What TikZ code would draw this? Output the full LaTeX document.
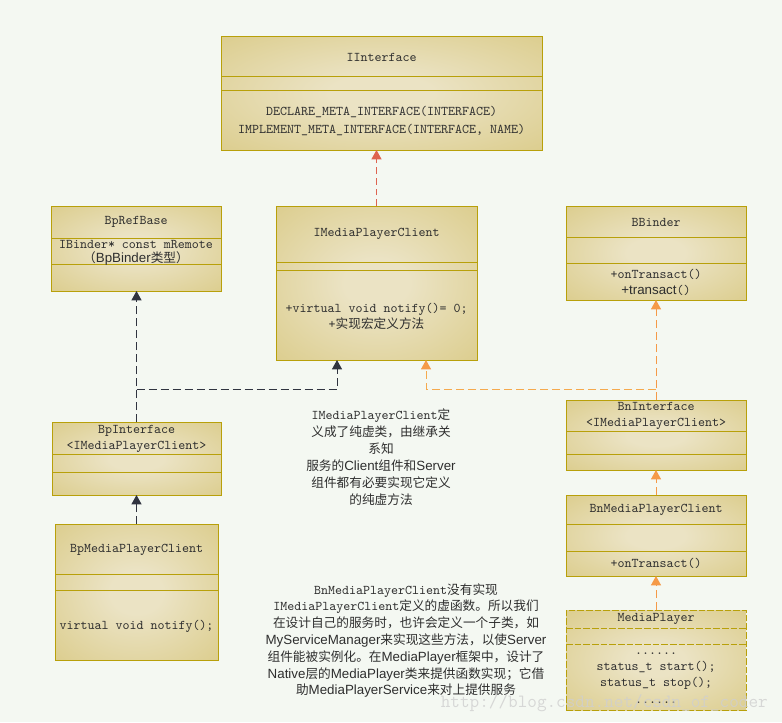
\documentclass[tikz,border=0pt]{standalone}
\usepackage{fontspec}
\setsansfont{Liberation Sans}
\newfontfamily\cjkfont{Noto Sans CJK SC}[Scale=0.95]
\usetikzlibrary{arrows.meta}
\definecolor{bg}{HTML}{F4F8F2}
\definecolor{boxin}{HTML}{EBE3C4}
\definecolor{boxout}{HTML}{D4C272}
\definecolor{boxline}{HTML}{B8A00A}
\definecolor{txt}{HTML}{2E2E2E}
\definecolor{redl}{HTML}{DE6450}
\definecolor{orgl}{HTML}{F59A48}
\definecolor{orgh}{HTML}{F5AA4E}
\definecolor{blkl}{HTML}{303440}
\definecolor{wmark}{HTML}{CFCFCF}
\pgfdeclareradialshading{boxshade}{\pgfpoint{0bp}{0bp}}{color(0bp)=(boxin); color(8bp)=(boxin); color(50bp)=(boxout); color(72bp)=(boxout)}
\newcommand\zh[1]{{\cjkfont #1}}
\newcommand\sfx[1]{{\sffamily #1}}
\newcommand\umlbox[6][]{\node[umlbox, #1, anchor=north west, minimum width={(#5-#3)*0.75pt}, minimum height={(#6-#4)*0.75pt}] (#2) at (#3,#4) {};}
\newcommand\divline[3][]{\draw[divider, #1] (#2.west |- 0,#3) -- (#2.east |- 0,#3);}
\begin{document}
\begin{tikzpicture}[x=0.75pt, y=-0.75pt,
  umlbox/.style={draw=boxline, line width=0.75pt, shade, shading=boxshade, inner sep=0pt, outer sep=0pt},
  divider/.style={draw=boxline, line width=0.75pt},
  dashedbox/.style={dash pattern=on 5pt off 1.5pt},
  lbl/.style={inner sep=0pt, text=txt, align=center, font=\fontsize{10}{12.75}\selectfont\ttfamily},
  tip/.style={-{Triangle[length=7pt,width=7.5pt]}},
  blkarrow/.style={draw=blkl, line width=0.75pt, dash pattern=on 6pt off 3pt, tip},
  orgarrow/.style={draw=orgl, line width=0.75pt, dash pattern=on 6pt off 3pt, tip},
  orgharrow/.style={draw=orgh, line width=0.75pt, dash pattern=on 6pt off 3pt, -{Triangle[length=7pt,width=7.5pt,color=orgl]}},
  redarrow/.style={draw=redl, line width=0.75pt, dash pattern=on 5pt off 3pt, tip},
]
\path[fill=bg] (0,0) rectangle (782,722);
\useasboundingbox (0,0) rectangle (782,722);

% boxes
\umlbox{ii}{221}{36}{542}{150}
\divline{ii}{76.5}
\divline{ii}{90}
\umlbox{bprb}{51}{206}{221}{291}
\divline{bprb}{238}
\divline{bprb}{264}
\umlbox{imp}{276}{206}{477}{360}
\divline{imp}{262}
\divline{imp}{270}
\umlbox{bbinder}{566}{206}{746}{300}
\divline{bbinder}{237}
\divline{bbinder}{263}
\umlbox{bpi}{52}{422}{221}{495}
\divline{bpi}{454}
\divline{bpi}{472}
\umlbox{bni}{566}{400}{746}{470}
\divline{bni}{431}
\divline{bni}{454}
\umlbox{bpmc}{55}{524}{218}{660}
\divline{bpmc}{574}
\divline{bpmc}{590}
\umlbox{bnmc}{566}{495}{746}{576}
\divline{bnmc}{524}
\divline{bnmc}{551}
\umlbox[dashedbox]{mp}{566}{610}{746}{710}
\divline[dashedbox]{mp}{628}
\divline[dashedbox]{mp}{644}

% texts
\node[lbl] (t_ii) at (381.5,57) {IInterface};
\node[lbl, font=\fontsize{10}{13.5}\selectfont\ttfamily] (m_ii) at (381.5,121) {DECLARE\_META\_INTERFACE(INTERFACE)\\IMPLEMENT\_META\_INTERFACE(INTERFACE, NAME)};
\node[lbl] (t_bprb) at (136,222) {BpRefBase};
\node[lbl] (a_bprb1) at (136,244) {IBinder* const mRemote};
\node[lbl] (a_bprb2) at (136,258) {\zh{（}\sfx{BpBinder}\zh{类型）}};
\node[lbl] (t_imp) at (376.5,234) {IMediaPlayerClient};
\node[lbl, font=\fontsize{10}{12}\selectfont\ttfamily] (m_imp) at (376.5,316) {+virtual void notify()= 0;\\+\zh{实现宏定义方法}};
\node[lbl] (t_bb) at (656,222) {BBinder};
\node[lbl, font=\fontsize{10}{12}\selectfont\ttfamily] (m_bb) at (656,282) {+onTransact()\\\sfx{+transact}()};
\node[lbl, font=\fontsize{10}{12}\selectfont\ttfamily] (t_bpi) at (136.5,439) {BpInterface\\<IMediaPlayerClient>};
\node[lbl, font=\fontsize{10}{12}\selectfont\ttfamily] (t_bni) at (656,416) {BnInterface\\<IMediaPlayerClient>};
\node[lbl] (t_bpmc) at (136.5,550) {BpMediaPlayerClient};
\node[lbl] (m_bpmc) at (136.5,626) {virtual void notify();};
\node[lbl] (t_bnmc) at (656,510) {BnMediaPlayerClient};
\node[lbl] (m_bnmc) at (656,563) {+onTransact()};
\node[lbl] (t_mp) at (656,619) {MediaPlayer};
\node[lbl, font=\fontsize{10}{12.2}\selectfont\ttfamily] (m_mp) at (656,678) {......\\status\_t start();\\status\_t stop();\\......};

% annotations
\node[lbl, font=\fontsize{10}{12.75}\selectfont\ttfamily] (note1) at (381,457) {IMediaPlayerClient\zh{定}\\\zh{义成了纯虚类，由继承关}\\\zh{系知}\\\zh{服务的}\sfx{Client}\zh{组件和}\sfx{Server}\\\zh{组件都有必要实现它定义}\\\zh{的纯虚方法}};
\node[lbl, font=\fontsize{10}{12.6}\selectfont\ttfamily] (note2) at (406,640.5) {BnMediaPlayerClient\zh{没有实现}\\IMediaPlayerClient\zh{定义的虚函数。所以我们}\\\zh{在设计自己的服务时，也许会定义一个子类，如}\\\sfx{MyServiceManager}\zh{来实现这些方法，以使}\sfx{Server}\\\zh{组件能被实例化。在}\sfx{MediaPlayer}\zh{框架中，设计了}\\\sfx{Native}\zh{层的}\sfx{MediaPlayer}\zh{类来提供函数实现；它借}\\\zh{助}\sfx{MediaPlayerService}\zh{来对上提供服务}};

% connectors
\coordinate (jb) at (337,389);
\coordinate (jo) at (426,389);
\draw[redarrow] (imp.north) -- (imp.north |- ii.south);
\draw[blkarrow] (bpi.north) -- (bpi.north |- bprb.south);
\draw[blkarrow] (bpi.north |- jb) -- (jb) -- (jb |- imp.south);
\draw[orgarrow] (bni.north) -- (bni.north |- bbinder.south);
\draw[orgharrow] (bni.north |- jo) -- (jo) -- (jo |- imp.south);
\draw[blkarrow] (bpmc.north) -- (bpmc.north |- bpi.south);
\draw[orgarrow] (bnmc.north) -- (bnmc.north |- bni.south);
\draw[orgarrow] (mp.north) -- (mp.north |- bnmc.south);

% watermark
\node[inner sep=0pt, anchor=base east, text=wmark, opacity=0.8, font=\fontsize{14}{14}\selectfont\ttfamily] (wm) at (768,707) {http://blog.csdn.net/csdn\_of\_coder};
\end{tikzpicture}
\end{document}
